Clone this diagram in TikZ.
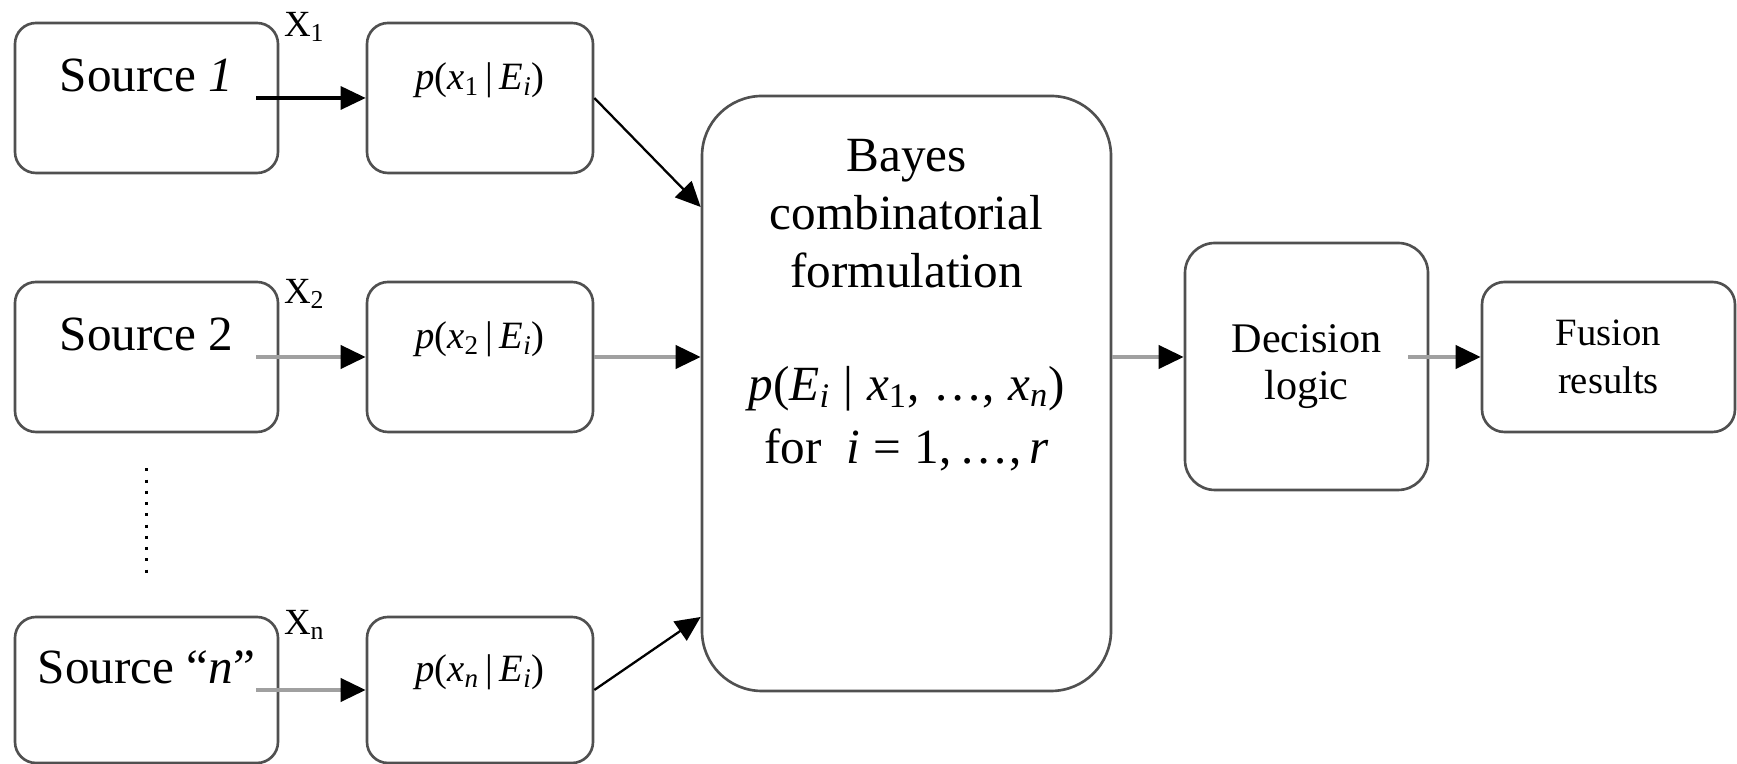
\documentclass[tikz,border=0pt]{standalone}
\usepackage{fontspec}
\setmainfont{Liberation Serif}
\usetikzlibrary{arrows.meta}
\definecolor{boxgray}{RGB}{80,80,80}
\definecolor{linegray}{RGB}{160,160,160}
% p(x_k | E_i) als Text in Times-Kursiv
\newcommand{\pxE}[1]{\textit{p}(\textit{x}\textsubscript{#1}\,|\,\textit{E}\textsubscript{\textit{i}})}

\tikzset{
  rbox/.style={draw=boxgray, line width=1.5pt, rounded corners=0.42cm, fill=white, align=center},
  srcbox/.style={rbox, minimum width=5.26cm, minimum height=3cm,
    font=\fontsize{28}{34}\selectfont, text height=0.7cm, text depth=0.94cm},
  probbox/.style={rbox, minimum width=4.52cm, minimum height=3cm,
    font=\fontsize{22}{26}\selectfont, text height=0.6cm, text depth=0.92cm},
  bayesbox/.style={rbox, rounded corners=1.2cm, minimum width=8.18cm, minimum height=11.9cm},
  decbox/.style={rbox, rounded corners=0.6cm, minimum width=4.86cm, minimum height=4.94cm,
    font=\fontsize{24}{27}\selectfont},
  resbox/.style={rbox, rounded corners=0.45cm, minimum width=5.06cm, minimum height=3cm,
    font=\fontsize{22}{27}\selectfont},
  xlab/.style={inner sep=0pt, font=\fontsize{21}{25}\selectfont},
  arr/.style={draw=linegray, line width=2.2pt, -{Triangle[color=black, length=0.5cm, width=0.46cm]}},
  arrblack/.style={arr, draw=black, line width=1.8pt},
  arrthin/.style={arr, draw=black, line width=1.3pt},
  dotline/.style={black, line width=1.8pt, dash pattern=on 1.8pt off 4.6pt}
}

\begin{document}
\begin{tikzpicture}
    \useasboundingbox[fill=white] (0,0) rectangle (34.74,15.28);

    % ==========================================
    % QUELLEN UND BEDINGTE WAHRSCHEINLICHKEITEN
    % ==========================================
    \node[srcbox] (src1) at (2.93,13.32) {Source \textit{1}};
    \node[srcbox] (src2) at (2.93,8.14) {Source 2};
    \node[srcbox, minimum height=2.92cm] (srcn) at (2.93,1.48) {Source “\textit{n}”};

    \node[probbox] (p1) at (9.6,13.32) {\pxE{1}};
    \node[probbox] (p2) at (9.6,8.14) {\pxE{2}};
    \node[probbox, minimum height=2.92cm] (pn) at (9.6,1.48) {\pxE{\textit{n}}};

    % Messwerte X_k über den Pfeilen
    \node[xlab] (x1) at ([xshift=0.5cm, yshift=-0.1cm]src1.north east) {X\textsubscript{1}};
    \node[xlab] (x2) at ([xshift=0.5cm, yshift=-0.26cm]src2.north east) {X\textsubscript{2}};
    \node[xlab] (xn) at ([xshift=0.5cm, yshift=-0.18cm]srcn.north east) {X\textsubscript{n}};

    % Punkte zwischen Quelle 2 und Quelle n
    \draw[dotline] ([yshift=-0.7cm]src2.south) -- ([yshift=0.7cm]srcn.north);

    % ==========================================
    % BAYES-BLOCK, ENTSCHEIDUNG, ERGEBNIS
    % ==========================================
    \node[bayesbox, label={[name=bayestxt, anchor=north, inner sep=0pt, yshift=-0.88cm,
        align=center, font=\fontsize{28}{33}\selectfont]north:{Bayes\\combinatorial\\formulation\\[1.1cm]
        \textit{p}(\textit{E}\textsubscript{\textit{i}}\;|\;\textit{x}\textsubscript{1},\;\dots,\;\textit{x}\textsubscript{\textit{n}})\\[0.1cm]
        for~~\textit{i}\;=\;1,\,\dots,\,\textit{r}}}] (bayes) at (18.13,7.41) {};

    \node[decbox] (dec) at (26.13,7.95) {Decision\\logic};
    \node[resbox] (fusion) at (32.17,8.14) {Fusion\\results};

    % ==========================================
    % PFEILE
    % ==========================================
    \draw[arrblack, shorten <=-0.46cm] (src1) -- (p1);
    \draw[arr, shorten <=-0.46cm] (src2) -- (p2);
    \draw[arr, shorten <=-0.46cm] (srcn) -- (pn);

    \draw[arrthin] (p1.east) -- ([yshift=3.73cm]bayes.west);
    \draw[arr] (p2.east) -- (p2.east -| bayes.west);
    \draw[arrthin] (pn.east) -- ([yshift=-4.47cm]bayes.west);

    \draw[arr] (bayes.east |- fusion) -- (dec.west |- fusion);
    \draw[arr, shorten <=-0.42cm] (dec.east |- fusion) -- (fusion.west);
\end{tikzpicture}
\end{document}
